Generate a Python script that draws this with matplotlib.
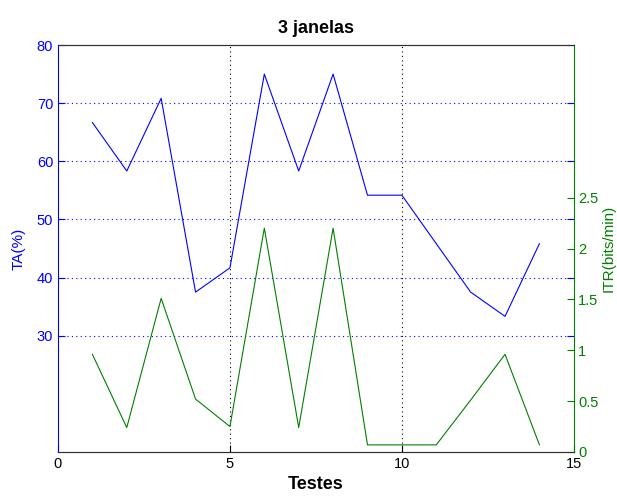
import numpy as np
import matplotlib
matplotlib.use("Agg")
import matplotlib.pyplot as plt

plt.rcParams["font.family"] = ["Liberation Sans", "DejaVu Sans"]

# ---- data -------------------------------------------------------------------
testes = np.arange(1, 15)
ta = [66.67, 58.33, 70.83, 37.5, 41.67, 75.0, 58.33, 75.0,
      54.17, 54.17, 45.83, 37.5, 33.33, 45.83]
itr = [0.96, 0.24, 1.51, 0.52, 0.25, 2.2, 0.24, 2.2,
       0.07, 0.07, 0.07, 0.51, 0.96, 0.07]
ta_ticks = [30, 40, 50, 60, 70, 80]
itr_ticks = [0, 0.5, 1, 1.5, 2, 2.5]
x_ticks = [0, 5, 10, 15]

BLUE, GREEN = "#0000ff", "#008000"

fig = plt.figure(figsize=(6.17, 4.98), dpi=100)
ax = fig.add_axes([0.094, 0.0924, 0.836, 0.8172])
ax2 = ax.twinx()

ax.plot(testes, ta, color=BLUE, lw=0.8)
ax2.plot(testes, itr, color=GREEN, lw=0.8)

ax.set_xlim(0, 15)
ax.set_ylim(10, 80)
ax2.set_ylim(0, 4)
ax.set_xticks(x_ticks)
ax.set_yticks(ta_ticks)
ax2.set_yticks(itr_ticks)
ax2.set_yticklabels(["0", "0.5", "1", "1.5", "2", "2.5"])

# dotted grid: horizontal from the left axis, vertical at the x ticks
for y in ta_ticks[:-1]:
    ax.axhline(y, color=BLUE, lw=0.8, ls=(0, (1, 3)), zorder=0)
for x in x_ticks[1:-1]:
    ax.axvline(x, color="black", lw=0.8, ls=(0, (1, 3)), zorder=0)

ax.tick_params(axis="y", direction="in", colors=BLUE, labelsize=10.5,
               right=True, length=5)
ax.tick_params(axis="x", direction="in", colors="black", labelsize=10.5,
               top=False, length=5)
ax2.tick_params(axis="y", direction="in", colors=GREEN, labelsize=10.5,
                length=5, pad=3)

ax.spines["left"].set_color(BLUE)
ax.spines["right"].set_visible(False)
ax2.spines["left"].set_visible(False)
ax2.spines["right"].set_color(GREEN)
for a in (ax, ax2):
    a.spines["top"].set_color("#333333")
    a.spines["bottom"].set_color("#333333")

ax.set_ylabel("TA(%)", color=BLUE, fontsize=11, labelpad=8)
ax2.set_ylabel("ITR(bits/min)", color=GREEN, fontsize=11, labelpad=2)
ax.set_xlabel("Testes", fontsize=13, fontweight="bold", labelpad=4)
ax.set_title("3 janelas", fontsize=13, fontweight="bold", pad=9)

fig.savefig("out.png", dpi=100)
